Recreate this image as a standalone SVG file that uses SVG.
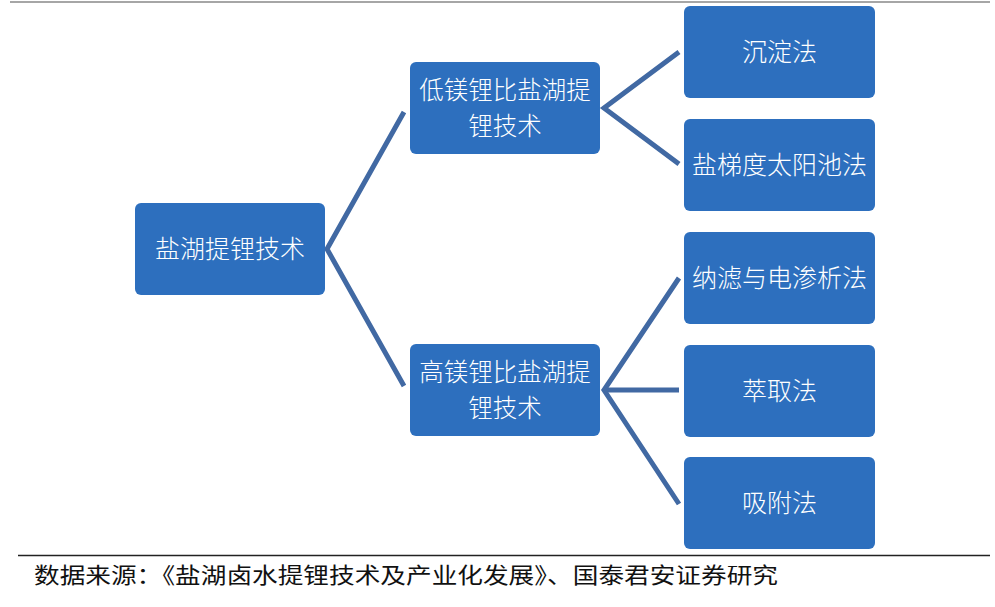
<svg xmlns="http://www.w3.org/2000/svg" width="995" height="607" viewBox="0 0 995 607">
<style>
.box{fill:#2d6fbe;}
.lbl{fill:#ffffff;font-family:"Noto Sans CJK SC","Noto Sans CJK JP",sans-serif;font-size:25px;font-weight:300;text-anchor:middle;}
.two{font-size:24.5px;}
.conn{stroke:#4169a3;stroke-width:5;fill:none;stroke-linejoin:miter;}
.cap{fill:#111111;font-family:"Noto Sans CJK SC",serif;font-size:22px;}
</style>
<rect x="0" y="0" width="995" height="607" fill="#ffffff"/>
<line x1="10" y1="2" x2="990" y2="2" stroke="#a6a6a6" stroke-width="2"/>
<g id="connectors">
<polyline class="conn" points="404,112 327,249 404,386"/>
<polyline class="conn" points="679,52 604,108 679,164"/>
<polyline class="conn" points="679,278 604,390 679,504"/>
<line class="conn" x1="604" y1="390" x2="679" y2="390"/>
</g>
<g id="root"><rect class="box" x="135" y="203" width="190" height="92" rx="6"/><text class="lbl" x="230" y="258">盐湖提锂技术</text></g>
<g id="mid1"><rect class="box" x="410" y="62" width="190" height="92" rx="6"/><text class="lbl two" x="505" y="99">低镁锂比盐湖提</text><text class="lbl two" x="505" y="135">锂技术</text></g>
<g id="mid2"><rect class="box" x="410" y="344" width="190" height="92" rx="6"/><text class="lbl two" x="505" y="381">高镁锂比盐湖提</text><text class="lbl two" x="505" y="417">锂技术</text></g>
<g id="leaf1"><rect class="box" x="684" y="6" width="191" height="92" rx="6"/><text class="lbl" x="779.5" y="61">沉淀法</text></g>
<g id="leaf2"><rect class="box" x="684" y="119" width="191" height="92" rx="6"/><text class="lbl" x="779.5" y="174">盐梯度太阳池法</text></g>
<g id="leaf3"><rect class="box" x="684" y="232" width="191" height="92" rx="6"/><text class="lbl" x="779.5" y="287">纳滤与电渗析法</text></g>
<g id="leaf4"><rect class="box" x="684" y="345" width="191" height="92" rx="6"/><text class="lbl" x="779.5" y="400">萃取法</text></g>
<g id="leaf5"><rect class="box" x="684" y="457" width="191" height="92" rx="6"/><text class="lbl" x="779.5" y="512">吸附法</text></g>
<line x1="18" y1="555.5" x2="990" y2="555.5" stroke="#222222" stroke-width="1.5"/>
<text class="cap" x="34" y="583" textLength="744" lengthAdjust="spacingAndGlyphs">数据来源：《盐湖卤水提锂技术及产业化发展》、国泰君安证券研究</text>
</svg>
